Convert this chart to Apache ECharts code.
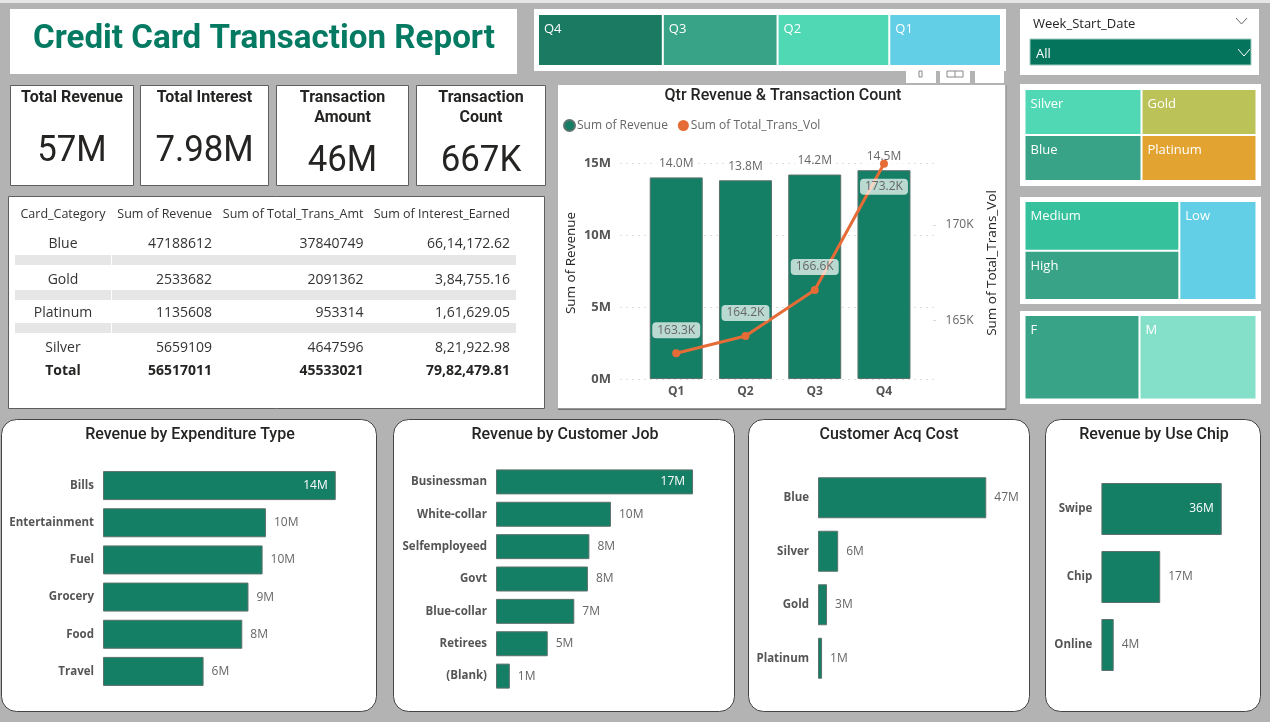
<!DOCTYPE html>
<html>
<head>
  <meta charset="UTF-8">
  <title>Credit Card Transaction Report</title>
  <script src="https://cdn.jsdelivr.net/npm/echarts@6/dist/echarts.min.js"></script>
  <style>
    html, body { margin: 0; padding: 0; background: #b3b3b3; overflow: hidden; }
    #main { width: 1270px; height: 722px; }
  </style>
</head>
<body>
<div id="main"></div>
<script>
  // ============ data ============
  const quarters = ['Q1', 'Q2', 'Q3', 'Q4'];
  const qtrRevenue = [14.0, 13.8, 14.2, 14.5];   // millions
  const qtrTransVol = [163.3, 164.2, 166.6, 173.2]; // thousands

  const kpiTitles = [['Total Revenue'], ['Total Interest'], ['Transaction', 'Amount'], ['Transaction', 'Count']];
  const kpiValues = ['57M', '7.98M', '46M', '667K'];

  const tableHeader = ['Card_Category', 'Sum of Revenue', 'Sum of Total_Trans_Amt', 'Sum of Interest_Earned'];
  const tableCards = ['Blue', 'Gold', 'Platinum', 'Silver'];
  const tableRevenue = ['47188612', '2533682', '1135608', '5659109'];
  const tableAmount = ['37840749', '2091362', '953314', '4647596'];
  const tableInterest = ['66,14,172.62', '3,84,755.16', '1,61,629.05', '8,21,922.98'];
  const tableTotal = ['Total', '56517011', '45533021', '79,82,479.81'];

  const expenseTypes = ['Bills', 'Entertainment', 'Fuel', 'Grocery', 'Food', 'Travel'];
  const expenseRevenue = [14.0, 9.8, 9.6, 8.75, 8.38, 6.05];
  const jobs = ['Businessman', 'White-collar', 'Selfemployeed', 'Govt', 'Blue-collar', 'Retirees', '(Blank)'];
  const jobRevenue = [17.36, 10.13, 8.23, 8.1, 6.9, 4.56, 1.22];
  const acqCards = ['Blue', 'Silver', 'Gold', 'Platinum'];
  const acqRevenue = [47.19, 5.66, 2.53, 1.14];
  const chipTypes = ['Swipe', 'Chip', 'Online'];
  const chipRevenue = [35.5, 17.35, 3.63];

  // slicer tiles: names and their relative sizes on the page
  const qtrTiles = ['Q4', 'Q3', 'Q2', 'Q1'];
  const qtrTileSize = [124, 114, 111, 111];
  const cardTiles = ['Silver', 'Blue', 'Gold', 'Platinum'];
  const cardTileSize = [116, 116, 114, 114];
  const incomeTiles = ['Medium', 'High', 'Low'];
  const incomeTileSize = [154, 153, 153];
  const genderTiles = ['F', 'M'];
  const genderTileSize = [114, 116];

  const qtrTileColors = ['#1b7a62', '#38a386', '#50d8b5', '#62cfe6'];
  const cardTileColors = ['#50d8b5', '#38a386', '#bbc257', '#e2a330'];
  const incomeTileColors = ['#36c19d', '#38a386', '#62cfe6'];
  const genderTileColors = ['#38a386', '#84e0c8'];

  // ============ styles ============
  const GREEN = '#157f66';
  const ORANGE = '#e66c37';
  const DIN = 'Roboto, sans-serif';
  const UI = '"Open Sans", sans-serif';

  let chart = echarts.init(document.getElementById('main'), null, {renderer: 'canvas'});

  // ============ panels and loose text ============
  function box(x, y, w, h, stroke, r) {
    return {
      type: 'rect', silent: true, z: -1,
      shape: {x: x, y: y, width: w, height: h, r: r || 0},
      style: {fill: '#fff', stroke: stroke || null, lineWidth: stroke ? 1 : 0}
    };
  }
  function fillRect(x, y, w, h, color) {
    return {type: 'rect', silent: true, z: -1, shape: {x: x, y: y, width: w, height: h}, style: {fill: color}};
  }
  function label(str, x, y, size, opts) {
    opts = opts || {};
    // middle alignment sits a bit high with these fonts
    let dy = opts.rotation ? 0 : size * 0.09;
    return {
      type: 'text', silent: true, x: x, y: y + dy, rotation: opts.rotation || 0,
      scaleX: opts.scaleX || 1,
      style: {
        text: str, fontSize: size, fontFamily: opts.font || UI, fontWeight: opts.weight || 400,
        fill: opts.color || '#252423', align: opts.align || 'center', verticalAlign: 'middle'
      }
    };
  }
  function chevron(x, y, w, h, color) {
    return {
      type: 'polyline', silent: true,
      shape: {points: [[x, y], [x + w / 2, y + h], [x + w, y]]},
      style: {fill: null, stroke: color, lineWidth: 1}
    };
  }

  let els = [];
  els.push(fillRect(0, 0, 1270, 3, '#e6e6e6'));

  // title and top slicers
  els.push(box(10, 9, 507, 65));
  els.push(label('Credit Card Transaction Report', 264, 36, 34, {font: DIN, weight: 700, color: '#047a63', scaleX: 0.975}));
  els.push(box(534, 9, 472, 62));
  els.push(box(1020, 9, 239, 66));
  els.push(label('Week_Start_Date', 1033, 23, 13, {align: 'left'}));
  els.push(chevron(1236, 18, 11, 6, '#666'));
  els.push({type: 'rect', silent: true, shape: {x: 1030, y: 39, width: 221, height: 26}, style: {fill: '#04745c', stroke: '#9fc9bd', lineWidth: 1}});
  els.push(label('All', 1036, 53, 13, {align: 'left', color: '#fff'}));
  els.push(chevron(1238, 49, 12, 7, '#fff'));

  // bits of the visual toolbar sticking out over the chart
  els.push(fillRect(906, 71, 30, 12, '#fff'));
  els.push(fillRect(940, 71, 30, 12, '#fff'));
  els.push(fillRect(975, 71, 29, 12, '#fff'));
  els.push({type: 'rect', silent: true, shape: {x: 919, y: 71, width: 3, height: 6}, style: {fill: null, stroke: '#888', lineWidth: 1}});
  els.push({type: 'rect', silent: true, shape: {x: 947, y: 71, width: 16, height: 6}, style: {fill: null, stroke: '#888', lineWidth: 1}});
  els.push({type: 'line', silent: true, shape: {x1: 955, y1: 71, x2: 955, y2: 77}, style: {stroke: '#888', lineWidth: 1}});

  // KPI cards
  const kpiBoxes = [[10, 123], [140, 128], [276, 132], [416, 129]];
  kpiBoxes.forEach(function (b, i) {
    els.push(box(b[0] + 0.5, 85.5, b[1], 100, '#605e5c'));
    let cx = b[0] + b[1] / 2 + 0.5;
    kpiTitles[i].forEach(function (line, k) {
      els.push(label(line, cx, 96.5 + k * 20, 16, {font: DIN, weight: 700, color: '#252423', scaleX: 1.0}));
    });
    els.push(label(kpiValues[i], cx, kpiTitles[i].length > 1 ? 158 : 148, 37, {font: DIN, color: '#252423', scaleX: 0.94}));
  });

  // table
  els.push(box(8.5, 196.5, 536, 212, '#605e5c'));
  const tableRight = [212, 363.5, 510];
  els.push(label(tableHeader[0], 63, 213, 12.5, {color: '#333'}));
  tableHeader.slice(1).forEach(function (h, i) {
    els.push(label(h, tableRight[i], 213, 12.5, {align: 'right', color: '#333'}));
  });
  const rowY = [243, 279, 312, 347];
  tableCards.forEach(function (c, i) {
    els.push(label(c, 63, rowY[i], 14, {color: '#333'}));
    [tableRevenue, tableAmount, tableInterest].forEach(function (col, k) {
      els.push(label(col[i], tableRight[k], rowY[i], 14, {align: 'right', color: '#333'}));
    });
  });
  [255, 290, 323].forEach(function (y) {
    els.push(fillRect(15, y, 96, 10, '#e6e6e6'));
    els.push(fillRect(112, y, 404, 10, '#e6e6e6'));
  });
  els.push(label(tableTotal[0], 63, 370, 14, {weight: 700, color: '#252423'}));
  tableTotal.slice(1).forEach(function (v, i) {
    els.push(label(v, tableRight[i], 370, 14, {align: 'right', weight: 700, color: '#252423'}));
  });

  // combo chart panel
  els.push(box(558, 85, 447.5, 324));
  els.push({type: 'line', silent: true, z: -1, shape: {x1: 558, y1: 409, x2: 1006, y2: 409}, style: {stroke: '#333', lineWidth: 1}});
  els.push({type: 'line', silent: true, z: -1, shape: {x1: 1006, y1: 85, x2: 1006, y2: 409}, style: {stroke: '#888', lineWidth: 1}});
  els.push(label('Qtr Revenue & Transaction Count', 783, 95, 16, {font: DIN, weight: 500}));
  els.push(label('Sum of Revenue', 571, 263, 13.5, {rotation: Math.PI / 2}));
  els.push(label('Sum of Total_Trans_Vol', 992, 263, 13.5, {rotation: Math.PI / 2}));

  // right slicer panels
  els.push(box(1020, 84, 241, 102));
  els.push(box(1020, 197, 241, 107));
  els.push(box(1020, 311, 241, 93));

  // bottom panels
  const bottomPanels = [[1.5, 375, 'Revenue by Expenditure Type', 190], [393.5, 341, 'Revenue by Customer Job', 565],
    [748.5, 281, 'Customer Acq Cost', 889], [1045.5, 215, 'Revenue by Use Chip', 1154]];
  bottomPanels.forEach(function (p) {
    els.push(box(p[0], 419.5, p[1], 292, '#444', 15));
    els.push(label(p[2], p[3], 434, 16, {font: DIN, weight: 500}));
  });

  // ============ axes, one grid per plot ============
  let grids = [], xAxes = [], yAxes = [], series = [];

  // 0: gridlines and left labels, 1: the bars, 2: the line on its own scale
  grids.push({left: 620, top: 163, width: 317, height: 216});
  xAxes.push({gridIndex: 0, type: 'value', show: false});
  yAxes.push({
    gridIndex: 0, type: 'value', min: 0, max: 15, interval: 5,
    axisLine: {show: false}, axisTick: {show: false},
    axisLabel: {formatter: '{value}M', color: '#555', fontFamily: UI, fontWeight: 700, fontSize: 13, margin: 9},
    splitLine: {lineStyle: {color: '#ddd', type: [2, 4]}}
  });

  grids.push({left: 641.6, top: 163, width: 277, height: 216});
  xAxes.push({
    gridIndex: 1, type: 'category', data: quarters,
    axisLine: {show: false}, axisTick: {show: false},
    axisLabel: {color: '#555', fontFamily: UI, fontWeight: 700, fontSize: 12, margin: 7}
  });
  yAxes.push({gridIndex: 1, type: 'value', min: 0, max: 15, show: false});

  grids.push({left: 641.6, top: 129.3, width: 277, height: 287.1});
  xAxes.push({gridIndex: 2, type: 'category', data: quarters, show: false});
  yAxes.push({
    gridIndex: 2, type: 'value', position: 'right', offset: 15, min: 160, max: 175, interval: 5,
    axisLine: {show: false},
    axisTick: {show: true, length: 4, customValues: [165, 170], lineStyle: {color: '#ccc', type: [2, 2]}},
    axisLabel: {
      color: '#666', fontFamily: UI, fontSize: 12, margin: 12, customValues: [165, 170],
      formatter: '{value}K'
    },
    splitLine: {show: false}
  });

  series.push({
    name: 'Sum of Revenue', type: 'bar', xAxisIndex: 1, yAxisIndex: 1, barWidth: 53,
    data: qtrRevenue,
    itemStyle: {color: GREEN, borderColor: '#5c726c', borderWidth: 1},
    label: {
      show: true, position: 'top', distance: 6, color: '#666', fontFamily: UI, fontSize: 12,
      backgroundColor: 'rgba(255,255,255,0.7)', padding: [2, 3],
      formatter: function (p) { return p.value.toFixed(1) + 'M'; }
    }
  });
  series.push({
    name: 'Sum of Total_Trans_Vol', type: 'line', xAxisIndex: 2, yAxisIndex: 2,
    symbol: 'circle', symbolSize: 8,
    lineStyle: {color: ORANGE, width: 3}, itemStyle: {color: ORANGE},
    data: qtrTransVol.map(function (v, i) {
      return {value: v, label: {position: i === 3 ? 'bottom' : 'top'}};
    }),
    label: {
      show: true, distance: 11, color: '#666', fontFamily: UI, fontSize: 12,
      backgroundColor: 'rgba(255,255,255,0.7)', padding: [2, 5], borderRadius: 4,
      formatter: function (p) { return p.value.toFixed(1) + 'K'; }
    }
  });

  // horizontal bar plots along the bottom
  function addHBar(left, top, width, height, max, cats, vals, barH, insideIdx) {
    let g = grids.length;
    grids.push({left: left, top: top, width: width, height: height});
    xAxes.push({gridIndex: g, type: 'value', min: 0, max: max, show: false});
    yAxes.push({
      gridIndex: g, type: 'category', inverse: true, data: cats,
      axisLine: {show: false}, axisTick: {show: false},
      axisLabel: {color: '#555', fontFamily: UI, fontWeight: 700, fontSize: 11.5, margin: 9, padding: [2, 0, 0, 0]}
    });
    series.push({
      type: 'bar', xAxisIndex: g, yAxisIndex: g, barWidth: barH,
      itemStyle: {color: GREEN, borderColor: '#5c726c', borderWidth: 1},
      data: vals.map(function (v, i) {
        return {
          value: v,
          label: i === insideIdx ? {position: 'insideRight', color: '#fff', distance: 8} : {position: 'right', color: '#666', distance: 8}
        };
      }),
      label: {
        show: true, fontFamily: UI, fontSize: 12, padding: [2, 0, 0, 0],
        formatter: function (p) { return Math.round(p.value) + 'M'; }
      }
    });
  }
  addHBar(103, 467, 266, 223, 16, expenseTypes, expenseRevenue, 29, 0);
  addHBar(496, 465.7, 227, 226.6, 20, jobs, jobRevenue, 25, 0);
  addHBar(818, 471, 178.3, 214, 50, acqCards, acqRevenue, 41, -1);
  addHBar(1101.4, 475, 135.6, 204, 40, chipTypes, chipRevenue, 52, 0);

  // ============ slicer tiles ============
  function addTiles(left, top, width, height, names, sizes, colors) {
    series.push({
      type: 'treemap', left: left, top: top, width: width, height: height,
      roam: false, nodeClick: false, silent: true, sort: false,
      breadcrumb: {show: false},
      itemStyle: {gapWidth: 2, borderWidth: 0, borderColor: '#fff'},
      label: {show: true, position: 'insideTopLeft', distance: 5, padding: [3, 0, 0, 0], color: '#fff', fontFamily: UI, fontSize: 13},
      data: names.map(function (n, i) {
        return {name: n, value: sizes[i], itemStyle: {color: colors[i]}};
      })
    });
  }
  addTiles(539, 15, 461, 50, qtrTiles, qtrTileSize, qtrTileColors);
  addTiles(1025.5, 90, 230, 90, cardTiles, cardTileSize, cardTileColors);
  addTiles(1025.5, 202, 230, 97, incomeTiles, incomeTileSize, incomeTileColors);
  addTiles(1025.5, 316, 230, 82.5, genderTiles, genderTileSize, genderTileColors);

  chart.setOption({
    animation: false,
    backgroundColor: '#b3b3b3',
    legend: {
      left: 558, top: 114, icon: 'circle', itemWidth: 11, itemHeight: 11, itemGap: 10,
      selectedMode: false,
      data: ['Sum of Revenue', 'Sum of Total_Trans_Vol'],
      textStyle: {color: '#666', fontFamily: UI, fontSize: 12, padding: [0, 0, 0, -3]}
    },
    grid: grids,
    xAxis: xAxes,
    yAxis: yAxes,
    series: series,
    graphic: {elements: els}
  });
</script>
</body>
</html>
